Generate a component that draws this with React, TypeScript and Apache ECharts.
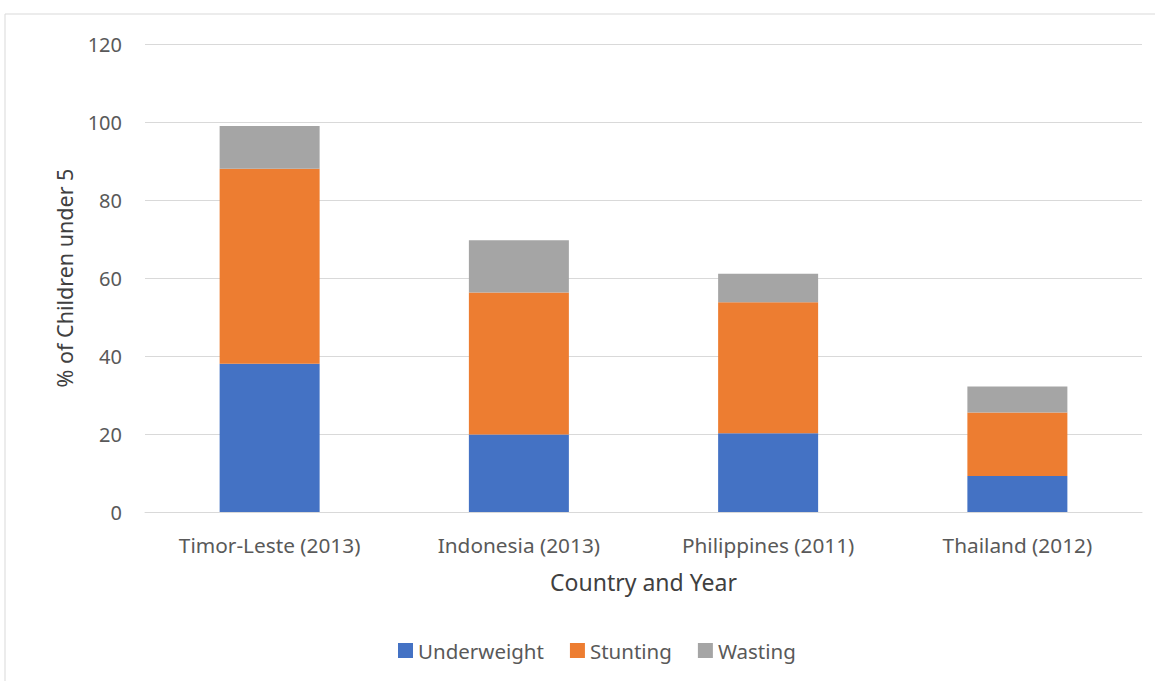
import React, { useEffect, useRef } from "react";
import * as echarts from "echarts";

const categories = ["Timor-Leste (2013)", "Indonesia (2013)", "Philippines (2011)", "Thailand (2012)"];
const underweight = [38.0, 19.9, 20.2, 9.2];
const stunting = [50.0, 36.4, 33.6, 16.3];
const wasting = [11.0, 13.4, 7.3, 6.7];

const FONT = "'Segoe UI', 'Noto Sans', 'Open Sans', sans-serif";

export default function App() {
  const ref = useRef<HTMLDivElement>(null);
  useEffect(() => {
    const chart = echarts.init(ref.current!, null, { renderer: "svg" });
    const mk = (name: string, data: number[], color: string) => ({
      name,
      type: "bar",
      stack: "total",
      data,
      barWidth: 100,
      itemStyle: { color },
    });
    chart.setOption({
      animation: false,
      textStyle: { fontFamily: FONT },
      graphic: [
        {
          type: "rect",
          shape: { x: 5, y: 14, width: 1170, height: 700 },
          style: { fill: "none", stroke: "#d9d9d9", lineWidth: 1 },
          silent: true,
        },
      ],
      grid: { left: 145, right: 13, top: 44, bottom: 169, containLabel: false },
      legend: {
        bottom: 20,
        left: 398,
        padding: 0,
        itemWidth: 15,
        itemHeight: 15,
        itemGap: 26,
        icon: "rect",
        textStyle: { fontSize: 20.5, color: "#595959", fontFamily: FONT },
        data: ["Underweight", "Stunting", "Wasting"],
      },
      xAxis: {
        type: "category",
        data: categories,
        name: "Country and Year",
        nameLocation: "middle",
        nameGap: 58,
        nameTextStyle: { fontSize: 23, color: "#404040", fontFamily: FONT },
        axisLine: { lineStyle: { color: "#d9d9d9", width: 1 } },
        axisTick: { show: false },
        axisLabel: { fontSize: 20.8, color: "#595959", margin: 22, fontFamily: FONT },
      },
      yAxis: {
        type: "value",
        min: 0,
        max: 120,
        interval: 20,
        name: "% of Children under 5",
        nameLocation: "middle",
        nameGap: 70,
        nameTextStyle: { fontSize: 21.5, color: "#404040", fontFamily: FONT },
        axisLine: { show: false },
        axisTick: { show: false },
        axisLabel: { fontSize: 20, color: "#595959", margin: 23, fontFamily: FONT },
        splitLine: { lineStyle: { color: "#d9d9d9", width: 1 } },
      },
      series: [
        mk("Underweight", underweight, "#4472c4"),
        mk("Stunting", stunting, "#ed7d31"),
        mk("Wasting", wasting, "#a5a5a5"),
      ],
    });
    return () => chart.dispose();
  }, []);
  return (
    <div
      ref={ref}
      style={{ position: "absolute", left: 0, top: 0, width: 1155, height: 681, background: "#fff" }}
    />
  );
}
